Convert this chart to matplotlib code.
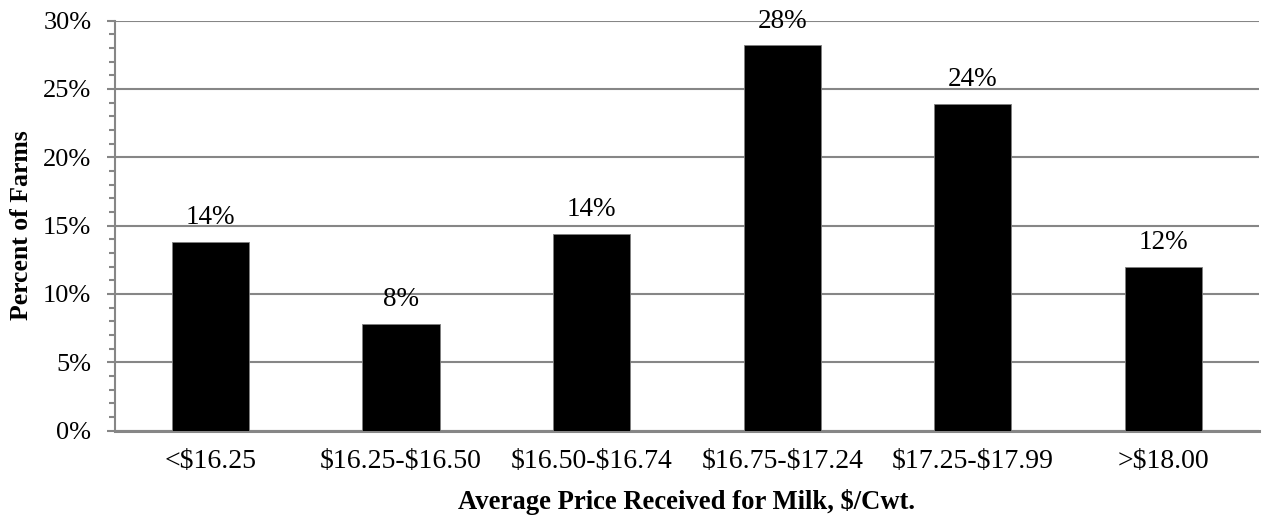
import matplotlib.pyplot as plt
import numpy as np
from matplotlib.ticker import MultipleLocator, PercentFormatter

# share of farms by average milk price bracket
price_ranges = ['<$16.25', '$16.25-$16.50', '$16.50-$16.74',
                '$16.75-$17.24', '$17.25-$17.99', '>$18.00']
pct_farms = [13.8, 7.8, 14.4, 28.2, 23.9, 12.0]

plt.rcParams['font.family'] = ['Liberation Serif', 'DejaVu Serif']
plt.rcParams['text.parse_math'] = False
grey = '#868686'

fig = plt.figure(figsize=(12.69, 5.17), dpi=100)
ax = fig.add_axes([0.0906, 0.1673, 0.9014, 0.793])

x = np.arange(len(price_ranges))
bars = ax.bar(x, pct_farms, width=0.405, color='black', edgecolor='#7f7f7f',
              linewidth=0.6, zorder=3)

for bar, v in zip(bars, pct_farms):
    ax.text(bar.get_x() + bar.get_width() / 2, v + 0.85, '{:.0f}%'.format(v),
            ha='center', va='bottom', fontsize=19.5, zorder=4)

ax.set_xlim(-0.5, len(price_ranges) - 0.5)
ax.set_ylim(0, 30)
ax.yaxis.set_major_locator(MultipleLocator(5))
ax.yaxis.set_minor_locator(MultipleLocator(1))
ax.yaxis.set_major_formatter(PercentFormatter(decimals=0))
ax.grid(axis='y', which='major', color=grey, linewidth=1.5, zorder=0)

ax.set_xticks(x)
ax.set_xticklabels(price_ranges)
ax.tick_params(axis='x', length=0, pad=13, labelsize=20)
ax.tick_params(axis='y', which='major', length=6, width=1.5, color=grey,
               labelsize=19, pad=11)
ax.tick_params(axis='y', which='minor', length=4.5, width=1.5, color=grey)

for side in ['top', 'right']:
    ax.spines[side].set_visible(False)
ax.spines['left'].set_color(grey)
ax.spines['left'].set_linewidth(1.5)
ax.spines['bottom'].set_color(grey)
ax.spines['bottom'].set_linewidth(2.2)

ax.set_ylabel('Percent of Farms', fontsize=18.5, fontweight='bold', labelpad=7)
ax.set_xlabel('Average Price Received for Milk, $/Cwt.', fontsize=19.2,
              fontweight='bold', labelpad=11)

plt.savefig('out.png', dpi=100)
